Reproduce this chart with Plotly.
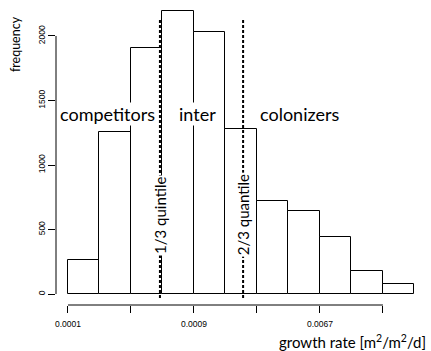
import plotly.graph_objects as go

# log(growth rate) bin edges start, width 0.5 (natural log units)
bin_left = [-9.0, -8.5, -8.0, -7.5, -7.0, -6.5, -6.0, -5.5, -5.0, -4.5, -4.0]
counts = [264, 1255, 1910, 2190, 2030, 1280, 720, 642, 440, 178, 78]
bin_width = 0.5

tick_vals = [-9, -8, -7, -6, -5, -4]
tick_text = ["0.0001", "", "0.0009", "", "0.0067", ""]
y_ticks = [0, 500, 1000, 1500, 2000]

q13 = -7.54
q23 = -6.22

centers = [b + bin_width / 2 for b in bin_left]

fig = go.Figure()
fig.add_trace(go.Bar(
    x=centers, y=counts, width=bin_width,
    marker=dict(color="white", line=dict(color="black", width=1)),
    showlegend=False, hoverinfo="skip"))

shapes = []
shapes.append(dict(type="line", xref="paper", yref="y", x0=0, x1=0, y0=0, y1=2000,
                   line=dict(color="black", width=1)))
shapes.append(dict(type="line", xref="x", yref="paper", x0=-9, x1=-4, y0=0, y1=0,
                   line=dict(color="black", width=1)))
for q in (q13, q23):
    shapes.append(dict(type="line", xref="x", yref="y", x0=q, x1=q, y0=-31, y1=2124,
                       line=dict(color="black", width=2, dash="3px,2px")))

ann_font = dict(family="Lato, Open Sans, sans-serif", color="black")
common = dict(showarrow=False, xanchor="center", yanchor="middle")
annotations = [
    dict(x=-8.365, y=1395, text="competitors", bgcolor="white",
         borderpad=0, font=dict(size=18, **ann_font), **common),
    dict(x=-6.936, y=1395, text="inter", bgcolor="white",
         borderpad=0, font=dict(size=18, **ann_font), **common),
    dict(x=-5.317, y=1395, text="colonizers", bgcolor="white",
         borderpad=0, font=dict(size=18, **ann_font), **common),
    dict(x=q13, y=612, text="1/3 quintile", bgcolor="white",
         textangle=-90, borderpad=1, font=dict(size=15, **ann_font), **common),
    dict(x=q23, y=612, text="2/3 quantile", bgcolor="white",
         textangle=-90, borderpad=1, font=dict(size=15, **ann_font), **common),
    dict(xref="paper", yref="paper", x=-0.112, y=0.87, text="frequency",
         textangle=-90, font=dict(size=12.5, **ann_font), **common),
    dict(xref="paper", yref="paper", x=0.812, y=-0.12,
         text="growth rate [m<sup>2</sup>/m<sup>2</sup>/d]",
         font=dict(size=15, **ann_font), **common),
]

fig.update_layout(
    width=431, height=351,
    margin=dict(l=56, r=10, t=5, b=46),
    paper_bgcolor="white", plot_bgcolor="white",
    bargap=0,
    shapes=shapes, annotations=annotations,
    xaxis=dict(range=[-9.19, -3.396], tickmode="array", tickvals=tick_vals, ticktext=tick_text,
               ticks="outside", ticklen=7, tickcolor="black", showgrid=False, zeroline=False,
               showline=False, automargin=False,
               tickfont=dict(family="Liberation Sans, Arial, sans-serif", size=8.5, color="black"),
               ticklabelstandoff=4),
    yaxis=dict(range=[-85, 2240], tickmode="array", tickvals=y_ticks,
               ticks="outside", ticklen=7, tickcolor="black", showgrid=False, zeroline=False,
               showline=False, tickangle=-90, automargin=False,
               tickfont=dict(family="Liberation Sans, Arial, sans-serif", size=8.5, color="black")),
)

fig.write_html("out.html", config={"displayModeBar": False},
               post_script="document.body.style.margin='0';document.body.style.overflow='hidden';")
